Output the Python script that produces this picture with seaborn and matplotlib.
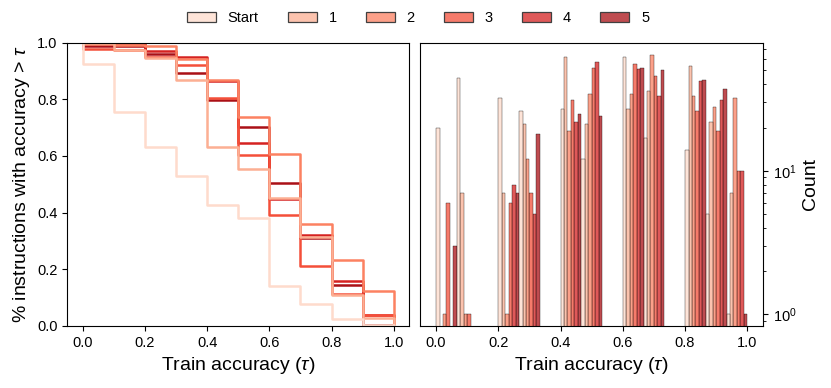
import numpy as np
import pandas as pd
import matplotlib
matplotlib.use("Agg")
import matplotlib.pyplot as plt
import seaborn as sns
from matplotlib.patches import Patch
from matplotlib.colors import to_rgba

# ---------------- data ----------------
accuracy = [0.0, 0.1, 0.2, 0.3, 0.4, 0.5, 0.6, 0.7, 0.8, 0.9, 1.0]
rounds = ["Start", "1", "2", "3", "4", "5"]
counts_start = [20, 44, 32, 26, 27, 12, 62, 17, 14, 5, 1]
counts_r1 = [0, 7, 7, 21, 62, 21, 27, 36, 54, 22, 7]
counts_r2 = [1, 1, 1, 12, 19, 34, 34, 64, 33, 28, 32]
counts_r3 = [6, 1, 6, 7, 31, 52, 55, 46, 26, 19, 10]
counts_r4 = [0, 0, 8, 5, 22, 57, 51, 33, 42, 31, 10]
counts_r5 = [3, 0, 7, 18, 25, 24, 52, 50, 43, 37, 1]

all_counts = [counts_start, counts_r1, counts_r2, counts_r3, counts_r4, counts_r5]
rows = []
for r, cts in zip(rounds, all_counts):
    for a, c in zip(accuracy, cts):
        rows.append({"acc": a, "count": c, "round": r})
df = pd.DataFrame(rows)

# ---------------- style ----------------
plt.rcParams["font.family"] = ["Liberation Sans", "DejaVu Sans"]
plt.rcParams["mathtext.fontset"] = "custom"
plt.rcParams["mathtext.rm"] = "Liberation Sans"
plt.rcParams["mathtext.it"] = "Liberation Sans:italic"
plt.rcParams["xtick.labelsize"] = 10.5
plt.rcParams["ytick.labelsize"] = 10.5

pal = sns.color_palette("Reds", 6)

fig = plt.figure(figsize=(8.31, 3.88), dpi=100)
ax1 = fig.add_axes([0.081, 0.160, 0.4115, 0.730])
ax2 = fig.add_axes([0.506, 0.160, 0.412, 0.730])

# left: complementary ECDF
sns.ecdfplot(data=df, x="acc", weights="count", hue="round", hue_order=rounds,
             palette=pal, complementary=True, ax=ax1, lw=1.8, legend=False)
ax1.set_xlabel("Train accuracy ($\\tau$)", fontsize=14)
ax1.set_ylabel("% instructions with accuracy > $\\tau$", fontsize=14)
ax1.set_xticks([0.0, 0.2, 0.4, 0.6, 0.8, 1.0])
ax1.set_ylim(0, 1)

# right: dodged histogram, log counts
sns.histplot(data=df, x="acc", weights="count", hue="round", hue_order=rounds,
             palette=pal, multiple="dodge", bins=15, ax=ax2, legend=False)
ax2.set_yscale("log")
ax2.set_ylim(0.83, 78)
ax2.set_xticks([0.0, 0.2, 0.4, 0.6, 0.8, 1.0])
ax2.yaxis.tick_right()
ax2.yaxis.set_label_position("right")
ax2.set_ylabel("Count", fontsize=14)
ax2.set_xlabel("Train accuracy ($\\tau$)", fontsize=14)

handles = [Patch(facecolor=to_rgba(c, 0.75), edgecolor="0.25", linewidth=0.9) for c in pal]
fig.legend(handles, rounds, loc="center", bbox_to_anchor=(0.503, 0.953), ncol=6,
           frameon=False, fontsize=10.5, handlelength=2.0, columnspacing=2.0)

fig.savefig("out.png", dpi=100)
